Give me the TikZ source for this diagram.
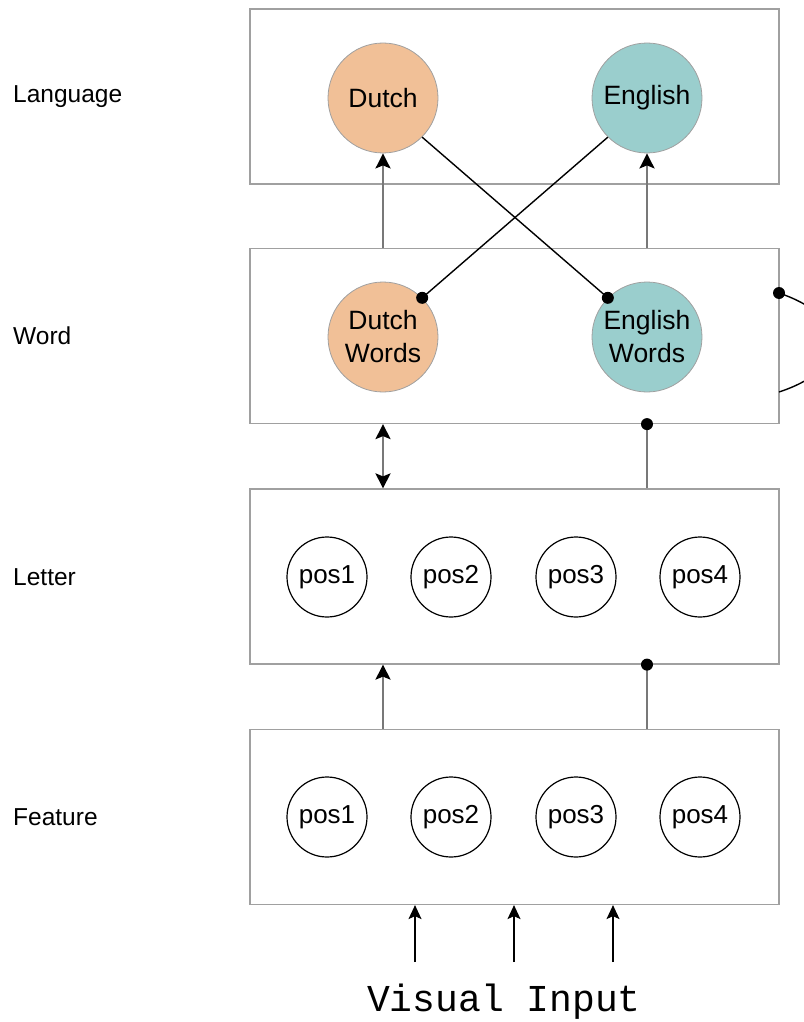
\documentclass[tikz,border=0pt]{standalone}
\usepackage{fontspec}
\setmainfont{Liberation Sans}
\newfontfamily\monofont{Liberation Mono}
\usetikzlibrary{arrows.meta}
\definecolor{dutchc}{RGB}{241,192,151}
\definecolor{engc}{RGB}{154,206,205}
\definecolor{boxc}{RGB}{160,160,160}
\definecolor{linkc}{RGB}{120,120,120}
\tikzset{
  layerbox/.style={draw=boxc,line width=1.2pt,minimum width=529pt,minimum height=175pt,inner sep=0pt},
  langnode/.style={circle,draw=boxc,line width=0.8pt,minimum size=110pt,inner sep=0pt,font=\fontsize{26.5}{33}\selectfont,align=center},
  posnode/.style={circle,draw=black,line width=1.2pt,minimum size=80pt,inner sep=0pt,font=\fontsize{26}{30}\selectfont},
  lbl/.style={anchor=west,inner sep=0pt,font=\fontsize{24.5}{28}\selectfont},
  tipb/.tip={Stealth[length=15pt,width=15pt,inset=3pt,black]},
  uparrow/.style={draw=linkc,line width=2.2pt,-tipb},
  duparrow/.style={draw=linkc,line width=2.2pt,tipb-tipb},
  dotline/.style={draw=linkc,line width=2.2pt},
  crossline/.style={draw=black,line width=1.4pt},
  inarrow/.style={draw=black,line width=1.3pt,-{Stealth[length=14pt,width=13pt,inset=3pt]}},
  dotc/.style={circle,fill=black,inner sep=0pt,minimum size=12pt}
}
\begin{document}
\begin{tikzpicture}[x=1pt,y=-1pt]
\useasboundingbox (0,0) rectangle (803,1022);
% layer boxes
\node[layerbox] (langbox) at (514.5,96.5) {};
\node[layerbox] (wordbox) at (514.5,336) {};
\node[layerbox] (letbox) at (514.5,576.5) {};
\node[layerbox] (featbox) at (514.5,817) {};
% left labels
\node[lbl] (lLang) at (13,97) {Language};
\node[lbl] (lWord) at (13,336) {Word};
\node[lbl] (lLet) at (13,577) {Letter};
\node[lbl] (lFeat) at (13,817) {Feature};
% language nodes
\node[langnode,fill=dutchc] (dutch) at (383,98) {Dutch};
\node[langnode,fill=engc] (english) at (647,98) {English};
\node[langnode,fill=dutchc] (dw) at (383,337) {Dutch\\Words};
\node[langnode,fill=engc] (ew) at (647,337) {English\\Words};
% letter nodes
\node[posnode] (l1) at (327,577) {pos1};
\node[posnode] (l2) at (451,577) {pos2};
\node[posnode] (l3) at (576,577) {pos3};
\node[posnode] (l4) at (700,577) {pos4};
% feature nodes
\node[posnode] (f1) at (327,817) {pos1};
\node[posnode] (f2) at (451,817) {pos2};
\node[posnode] (f3) at (576,817) {pos3};
\node[posnode] (f4) at (700,817) {pos4};
% word -> language arrows
\draw[uparrow] (wordbox.north -| dw) -- (dutch);
\draw[uparrow] (wordbox.north -| ew) -- (english);
% cross inhibitory lines
\draw[crossline] (dutch.-45) -- (ew.135);
\node[dotc] (dotew) at (ew.135) {};
\draw[crossline] (english.-135) -- (dw.45);
\node[dotc] (dotdw) at (dw.45) {};
% self loop on word box
\coordinate (loopA) at (779,293);
\coordinate (loopB) at (779,392);
\draw[crossline] (loopA) .. controls (852,318) and (852,368) .. (loopB);
\node[dotc] (dotloop) at (loopA) {};
% word <-> letter
\draw[duparrow] (wordbox.south -| dw) -- (letbox.north -| dw);
\draw[dotline] (letbox.north -| ew) -- (wordbox.south -| ew);
\node[dotc] (dotwl) at (wordbox.south -| ew) {};
% letter <- feature
\draw[uparrow] (featbox.north -| dw) -- (letbox.south -| dw);
\draw[dotline] (featbox.north -| ew) -- (letbox.south -| ew);
\node[dotc] (dotlf) at (letbox.south -| ew) {};
% visual input
\coordinate (v1) at (415,962);
\coordinate (v2) at (514,962);
\coordinate (v3) at (613,962);
\draw[inarrow] (v1) -- (featbox.south -| v1);
\draw[inarrow] (v2) -- (featbox.south -| v2);
\draw[inarrow] (v3) -- (featbox.south -| v3);
\node[inner sep=0pt,anchor=base,font=\monofont\fontsize{38}{40}\selectfont] (vis) at (504,1011) {Visual Input};
\end{tikzpicture}
\end{document}
